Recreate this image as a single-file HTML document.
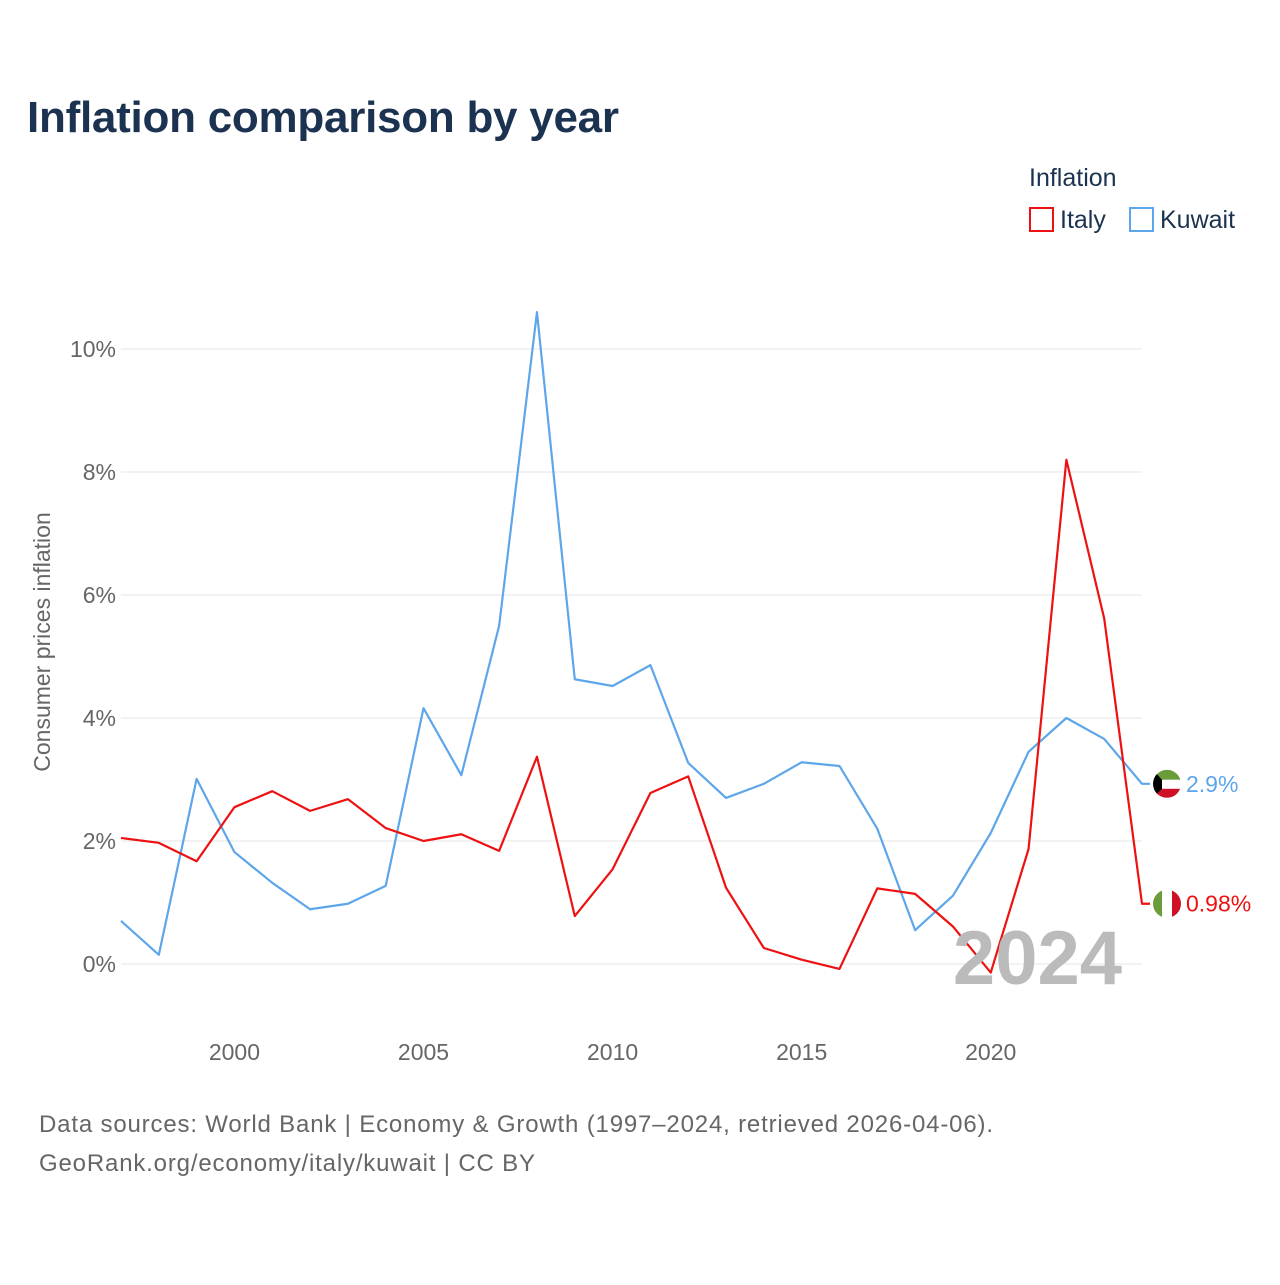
<!DOCTYPE html>
<html><head><meta charset="utf-8"><style>
body{margin:0;background:#fff;font-family:"Liberation Sans",sans-serif;}
</style></head><body>
<svg id="chart" width="1280" height="1280" xmlns="http://www.w3.org/2000/svg">
<defs>
<clipPath id="kwclip"><circle id="kwc" cx="1167" cy="784" r="14"/></clipPath>
<clipPath id="itclip"><circle id="itc" cx="1167" cy="904" r="14"/></clipPath>
</defs>
<rect width="1280" height="1280" fill="#fff"/>
<text x="27" y="132" font-size="44" font-weight="bold" fill="#1b3250" textLength="592">Inflation comparison by year</text>
<g>
<text x="1029" y="186" font-size="25" fill="#1b3250">Inflation</text>
<g><rect x="1030" y="208" width="23" height="23" fill="none" stroke="#ee1111" stroke-width="2"/><text x="1060" y="228" font-size="25" fill="#1b3250">Italy</text></g>
<g><rect x="1130" y="208" width="23" height="23" fill="none" stroke="#5ea6ea" stroke-width="2"/><text x="1160" y="228" font-size="25" fill="#1b3250">Kuwait</text></g>
</g>
<text transform="translate(50,642) rotate(-90)" text-anchor="middle" font-size="23" fill="#666">Consumer prices inflation</text>
<g id="grid"></g><g id="marks"></g>
<text x="1122" y="984" text-anchor="end" font-size="76" font-weight="bold" fill="#bbb">2024</text>
<text x="39" y="1132" font-size="24" fill="#666" textLength="954">Data sources: World Bank | Economy &amp; Growth (1997–2024, retrieved 2026-04-06).</text>
<text x="39" y="1171" font-size="24" fill="#666" textLength="496">GeoRank.org/economy/italy/kuwait | CC BY</text>
</svg>
<script>
const years=[1997,1998,1999,2000,2001,2002,2003,2004,2005,2006,2007,2008,2009,2010,2011,2012,2013,2014,2015,2016,2017,2018,2019,2020,2021,2022,2023,2024];
const kuwait=[0.70,0.15,3.01,1.82,1.32,0.89,0.98,1.27,4.16,3.07,5.50,10.60,4.63,4.52,4.86,3.27,2.70,2.93,3.28,3.22,2.20,0.55,1.11,2.13,3.45,4.00,3.66,2.93];
const italy=[2.05,1.97,1.67,2.55,2.81,2.49,2.68,2.21,2.00,2.11,1.84,3.37,0.78,1.54,2.78,3.05,1.24,0.26,0.07,-0.08,1.23,1.14,0.61,-0.14,1.87,8.20,5.62,0.98];
const yTicks=[0,2,4,6,8,10];
const xTicks=[2000,2005,2010,2015,2020];
const NS="http://www.w3.org/2000/svg";
const X=y=>121+(y-1997)*(1142-121)/27;
const Y=v=>964-v*61.5;
const grid=document.getElementById('grid'),marks=document.getElementById('marks');
function mk(tag,attrs,parent){const e=document.createElementNS(NS,tag);for(const k in attrs)e.setAttribute(k,attrs[k]);parent.appendChild(e);return e;}
yTicks.forEach(t=>{
 const l=mk('line',{x1:121,x2:1142,y1:Y(t),y2:Y(t),stroke:'#e6e6e6','stroke-width':1},grid);
 
 
 const tx=mk('text',{x:116,y:Y(t)+8,'text-anchor':'end','font-size':23,fill:'#666'},grid);
 tx.textContent=t+'%';
 
 
});
xTicks.forEach(t=>{
 const tx=mk('text',{x:X(t),y:1060,'text-anchor':'middle','font-size':23,fill:'#666'},grid);
 tx.textContent=t;
 
 
});
function series(vals,color,name,label){
 const last=vals[vals.length-1];
 const d=vals.map((v,i)=>(i?'L':'M')+X(years[i])+','+Y(v)).join(' ')+' L'+(X(2024)+8)+','+Y(last);
 const p=mk('path',{d:d,fill:'none',stroke:color,'stroke-width':2.2,'stroke-linejoin':'round'},marks);
 
 
 const t=mk('text',{x:1186,y:Y(last)+8,'font-size':23,fill:color},marks);
 t.textContent=label;
 
 
}
series(kuwait,'#5ea6ea','kuwait',kuwait[kuwait.length-1].toFixed(1)+'%');
series(italy,'#ee1111','italy',italy[italy.length-1].toFixed(2)+'%');
const ky=Y(kuwait[kuwait.length-1]);
document.getElementById('kwc').setAttribute('cy',ky);
const kg=mk('g',{'clip-path':'url(#kwclip)'},marks);


mk('rect',{x:1153,y:ky-14,width:28,height:10,fill:'#6a9c3c'},kg);
mk('rect',{x:1153,y:ky-4,width:28,height:9,fill:'#fff'},kg);
mk('rect',{x:1153,y:ky+5,width:28,height:10,fill:'#ce1126'},kg);
mk('path',{d:`M1153,${ky-14} L1162,${ky-4} L1162,${ky+5} L1153,${ky+14}Z`,fill:'#000'},kg);
const iy=Y(italy[italy.length-1]);
document.getElementById('itc').setAttribute('cy',iy);
const ig=mk('g',{'clip-path':'url(#itclip)'},marks);


mk('rect',{x:1153,y:iy-14,width:10,height:28,fill:'#6a9c3c'},ig);
mk('rect',{x:1162,y:iy-14,width:10,height:28,fill:'#fff'},ig);
mk('rect',{x:1172,y:iy-14,width:10,height:28,fill:'#ce1126'},ig);
</script>
</body></html>
